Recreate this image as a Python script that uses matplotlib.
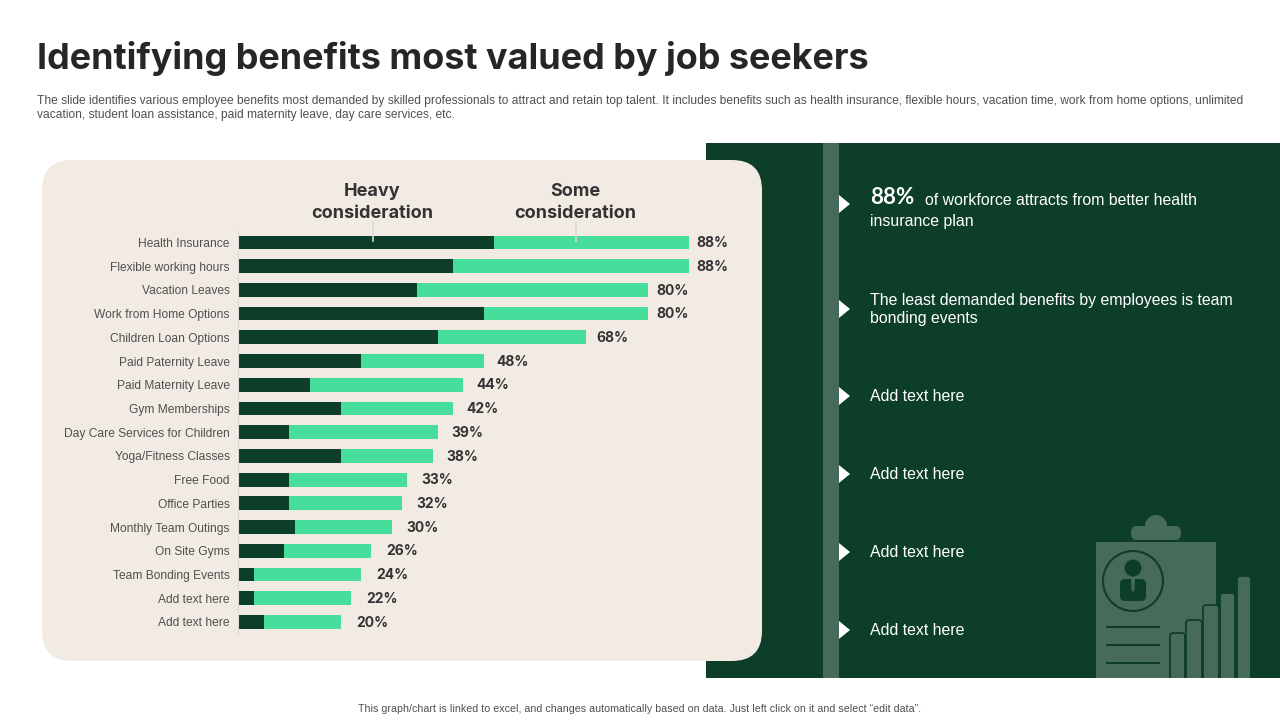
import matplotlib
matplotlib.use("Agg")
import matplotlib.pyplot as plt
from matplotlib.patches import Rectangle, FancyBboxPatch, Polygon, Circle

categories = ["Health Insurance", "Flexible working hours", "Vacation Leaves", "Work from Home Options",
              "Children Loan Options", "Paid Paternity Leave", "Paid Maternity Leave", "Gym Memberships",
              "Day Care Services for Children", "Yoga/Fitness Classes", "Free Food", "Office Parties",
              "Monthly Team Outings", "On Site Gyms", "Team Bonding Events", "Add text here", "Add text here"]
heavy = [50, 42, 35, 48, 39, 24, 14, 20, 10, 20, 10, 10, 11, 9, 3, 3, 5]
some = [38, 46, 45, 32, 29, 24, 30, 22, 29, 18, 23, 22, 19, 17, 21, 19, 15]
totals = [88, 88, 80, 80, 68, 48, 44, 42, 39, 38, 33, 32, 30, 26, 24, 22, 20]

DARK = "#0D3E29"
MINT = "#46DE9A"
CREAM = "#F1EBE4"
PALE = "#476B5B"
TXT = "#505050"
HEAD = "#333333"
W, H = 1280, 720
SANS = "Liberation Sans"
BOLD = "Inter"

fig = plt.figure(figsize=(12.8, 7.2), dpi=100, facecolor="white")
bg = fig.add_axes([0, 0, 1, 1])
bg.set_xlim(0, W); bg.set_ylim(H, 0); bg.axis("off")

# title and intro
bg.text(37, 59, "Identifying benefits most valued by job seekers", fontsize=25.9, fontweight="bold",
        family=BOLD, color="#262626", va="center", ha="left")
bg.text(37, 100.6, "The slide identifies various employee benefits most demanded by skilled professionals to attract and retain top talent. It includes benefits such as health insurance, flexible hours, vacation time, work from home options, unlimited",
        fontsize=8.65, family=SANS, color=TXT, va="center")
bg.text(37, 114.6, "vacation, student loan assistance, paid maternity leave, day care services, etc.",
        fontsize=8.65, family=SANS, color=TXT, va="center")
bg.text(640, 709, "This graph/chart is linked to excel, and changes automatically based on data. Just left click on it and select \u201cedit data\u201d.",
        fontsize=7.7, family=SANS, color=TXT, va="center", ha="center")

# right panel
bg.add_patch(Rectangle((706, 143), 574, 535, fc=DARK, ec="none", zorder=1))
bg.add_patch(Rectangle((823, 143), 16, 535, fc=PALE, ec="none", zorder=2))
arrow_y = [204, 309, 396, 474, 552, 630]
for y in arrow_y:
    bg.add_patch(Polygon([(839, y - 9), (850, y), (839, y + 9)], fc="white", ec="none", zorder=3))
bg.text(870, 198, "88%", fontsize=16, fontweight="bold", family="Lato", color="white", va="center", zorder=4)
bg.text(925, 200.5, "of workforce attracts from better health", fontsize=11.45, family=SANS, color="white", va="center", zorder=4)
bg.text(870, 221.5, "insurance plan", fontsize=11.45, family=SANS, color="white", va="center", zorder=4)
bg.text(870, 300, "The least demanded benefits by employees is team", fontsize=11.45, family=SANS, color="white", va="center", zorder=4)
bg.text(870, 319, "bonding events", fontsize=11.45, family=SANS, color="white", va="center", zorder=4)
for y in arrow_y[2:]:
    bg.text(870, y + 0.5, "Add text here", fontsize=11.45, family=SANS, color="white", va="center", zorder=4)

# clipboard icon
bg.add_patch(Rectangle((1096, 542), 120, 136, fc=PALE, ec="none", zorder=2))
bg.add_patch(FancyBboxPatch((1131, 526), 50, 14, boxstyle="round,pad=0,rounding_size=6", fc=PALE, ec="none", zorder=2))
bg.add_patch(Circle((1156, 526), 11, fc=PALE, ec="none", zorder=2))
bg.add_patch(Circle((1133, 581), 30, fc="none", ec=DARK, lw=1.5, zorder=3))
bg.add_patch(Circle((1133, 568), 8.5, fc=DARK, ec="none", zorder=3))
bg.add_patch(FancyBboxPatch((1120, 579), 26, 22, boxstyle="round,pad=0,rounding_size=5", fc=DARK, ec="none", zorder=3))
bg.add_patch(Polygon([(1131, 579), (1135, 579), (1134.5, 590), (1133, 592), (1131.5, 590)], fc=PALE, ec="none", zorder=4))
for y in (627, 645, 663):
    bg.plot([1106, 1160], [y, y], color=DARK, lw=1.5, zorder=3, solid_capstyle="butt")
for x0, x1, top in [(1170, 1185, 633), (1186, 1202, 620), (1203, 1219, 605), (1220, 1235, 593), (1237, 1251, 576)]:
    bg.add_patch(FancyBboxPatch((x0, top), x1 - x0, 678 - top + 6, boxstyle="round,pad=0,rounding_size=3",
                                fc=PALE, ec=DARK, lw=1.3, zorder=3))
bg.add_patch(Rectangle((1160, 678), 100, 10, fc="white", ec="none", zorder=3.5))

# cream card
bg.add_patch(FancyBboxPatch((42, 160), 720, 501, boxstyle="round,pad=0,rounding_size=30", fc=CREAM, ec="none", zorder=5))

# bar chart axes: x=239 at value 0, 5.114 px per unit
left, right = 238.2, 238.2 + 5.12 * 100
top, bottom = 230.6, 633.8
ax = fig.add_axes([left / W, 1 - bottom / H, (right - left) / W, (bottom - top) / H], zorder=6)
ax.patch.set_alpha(0)
ys = list(range(len(categories)))
ax.barh(ys, heavy, height=0.58, color=DARK, linewidth=0)
ax.barh(ys, some, left=heavy, height=0.58, color=MINT, linewidth=0)
ax.set_xlim(0, 100); ax.set_ylim(len(categories) - 0.5, -0.5)
ax.set_yticks(ys); ax.set_yticklabels(categories, fontsize=8.65, family=SANS, color=TXT)
ax.tick_params(axis="y", length=0, pad=6.2)
ax.set_xticks([])
for s in ("top", "right", "bottom"):
    ax.spines[s].set_visible(False)
ax.spines["left"].set_color("#D9D9D9"); ax.spines["left"].set_linewidth(0.8)
for y, t in zip(ys, totals):
    gap = 3.1 - 1.6 * (t - 20) / 68
    ax.text(t + gap, y + 0.03, f"{t}%", fontsize=10, fontweight="bold", family=BOLD, color=HEAD, va="center", ha="left")

# series callouts
over = fig.add_axes([0, 0, 1, 1], zorder=7)
over.set_xlim(0, W); over.set_ylim(H, 0); over.axis("off")
for cx, a, b in [(372, "Heavy", "consideration"), (575, "Some", "consideration")]:
    over.text(cx, 191, a, fontsize=13, fontweight="bold", family=BOLD, color=HEAD, ha="center", va="center")
    over.text(cx, 213, b, fontsize=13, fontweight="bold", family=BOLD, color=HEAD, ha="center", va="center")
    over.plot([cx + 1, cx + 1], [222, 241], color="#D9D9D9", lw=1.2)

fig.savefig("out.png", dpi=100)
